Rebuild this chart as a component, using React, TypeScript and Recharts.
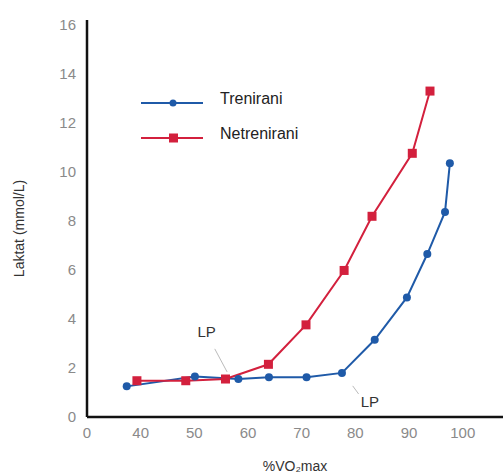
import { Label, Legend, Line, LineChart, ReferenceDot, ReferenceLine, XAxis, YAxis } from 'recharts';

const treniraniX = [37.4, 50.1, 58.2, 63.9, 70.9, 77.5, 83.6, 89.6, 93.4, 96.7, 97.6];
const treniraniY = [1.25, 1.65, 1.55, 1.62, 1.62, 1.8, 3.15, 4.88, 6.65, 8.37, 10.35];
const netreniraniX = [39.3, 48.4, 55.8, 63.8, 70.8, 77.9, 83.1, 90.6, 93.9];
const netreniraniY = [1.48, 1.48, 1.55, 2.15, 3.76, 5.98, 8.19, 10.76, 13.3];

const xTicks = [30, 40, 50, 60, 70, 80, 90, 100];
const xTickLabels = ['0', '40', '50', '60', '70', '80', '90', '100'];
const yTicks = [0, 2, 4, 6, 8, 10, 12, 14, 16];

const BLUE = '#1f5aa8';
const RED = '#d3203d';

const trenirani = treniraniX.map((x, i) => ({ x, y: treniraniY[i] }));
const netrenirani = netreniraniX.map((x, i) => ({ x, y: netreniraniY[i] }));

function SquareDot(props: any) {
  const { cx, cy } = props;
  if (cx == null || cy == null) return null;
  return <rect x={cx - 4.5} y={cy - 4.5} width={9} height={9} fill={RED} />;
}

function LegendContent() {
  const rows = [
    { name: 'Trenirani', color: BLUE, square: false },
    { name: 'Netrenirani', color: RED, square: true }
  ];
  return (
    <div>
      {rows.map((r) => (
        <div key={r.name} style={{ display: 'flex', alignItems: 'center', height: 35 }}>
          <svg width={62} height={14} style={{ marginTop: 8 }}>
            <line x1={0} y1={7} x2={62} y2={7} stroke={r.color} strokeWidth={2} />
            {r.square ? (
              <rect x={28} y={2.5} width={9} height={9} fill={r.color} />
            ) : (
              <circle cx={32} cy={7} r={3.5} fill={r.color} />
            )}
          </svg>
          <span style={{ marginLeft: 17, fontSize: 16, color: '#222' }}>{r.name}</span>
        </div>
      ))}
    </div>
  );
}

export default function App() {
  return (
    <div style={{ position: 'absolute', left: 0, top: 0, background: '#fff' }}>
      <LineChart
        width={503}
        height={475}
        margin={{ top: 20, right: 0, bottom: 0, left: 0 }}
        style={{ fontFamily: '"Liberation Sans", Arial, sans-serif' }}
      >
        <XAxis
          type="number"
          dataKey="x"
          domain={[30, 107.5]}
          ticks={xTicks}
          tickFormatter={(v: number) => xTickLabels[xTicks.indexOf(v)]}
          height={58}
          tickSize={0}
          tickMargin={10}
          axisLine={{ stroke: '#111', strokeWidth: 2.5 }}
          tick={{ fill: '#8a8a8a', fontSize: 15 }}
          allowDuplicatedCategory={false}
        >
          <Label value="%VO₂max" position="insideBottom" offset={4} fill="#333" fontSize={14} />
        </XAxis>
        <YAxis
          type="number"
          dataKey="y"
          domain={[0, 16.2]}
          ticks={yTicks}
          width={87}
          tickSize={0}
          tickMargin={11}
          axisLine={{ stroke: '#111', strokeWidth: 2.5 }}
          tick={{ fill: '#8a8a8a', fontSize: 15 }}
        >
          <Label value="Laktat (mmol/L)" angle={-90} position="insideLeft" offset={19} dy={10} fill="#333" fontSize={14} style={{ textAnchor: 'middle' }} />
        </YAxis>
        <Legend
          layout="vertical"
          verticalAlign="middle"
          align="center"
          content={<LegendContent />}
          wrapperStyle={{ left: 141, top: 81, width: 'auto' }}
        />
        <ReferenceLine segment={[{ x: 53.8, y: 2.78 }, { x: 56.1, y: 1.84 }]} stroke="#bbb" strokeWidth={1} />
        <ReferenceLine segment={[{ x: 79.5, y: 1.27 }, { x: 80.6, y: 0.94 }]} stroke="#bbb" strokeWidth={1} />
        <ReferenceDot x={52.3} y={3.47} r={0} fill="none" stroke="none" label={{ value: 'LP', fill: '#333', fontSize: 15, position: 'center' }} />
        <ReferenceDot x={82.7} y={0.61} r={0} fill="none" stroke="none" label={{ value: 'LP', fill: '#333', fontSize: 15, position: 'center' }} />
        <Line
          data={trenirani}
          dataKey="y"
          name="Trenirani"
          stroke={BLUE}
          strokeWidth={2}
          dot={{ r: 4, fill: BLUE, stroke: 'none' }}
          isAnimationActive={false}
        />
        <Line
          data={netrenirani}
          dataKey="y"
          name="Netrenirani"
          stroke={RED}
          strokeWidth={2}
          dot={<SquareDot />}
          isAnimationActive={false}
        />
      </LineChart>
    </div>
  );
}
